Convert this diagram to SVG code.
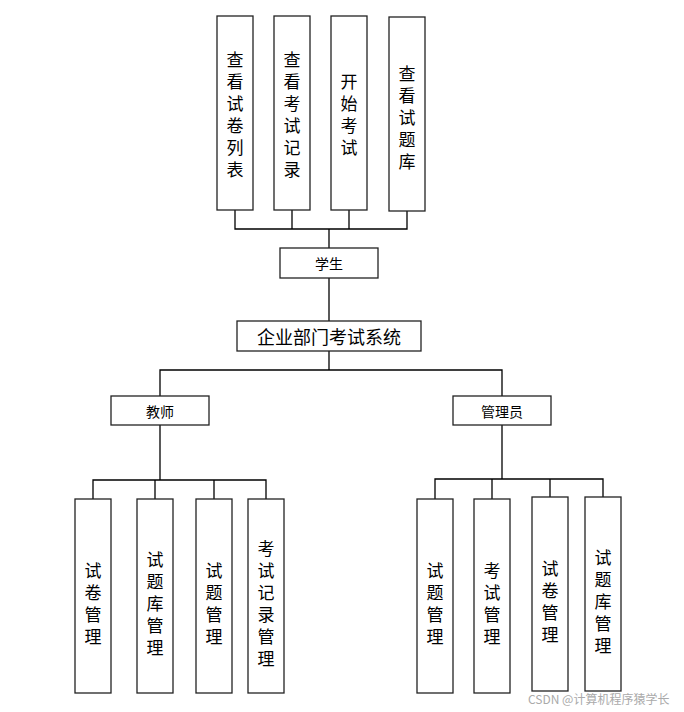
<svg xmlns="http://www.w3.org/2000/svg" width="684" height="712" viewBox="0 0 684 712">
<style>
rect{fill:#fff;stroke:#222;stroke-width:1.3}
.c line,.c polyline{stroke:#000;stroke-width:1.3;fill:none}
text{font-family:"Noto Sans CJK SC","Liberation Serif",serif;fill:#000}
.v{font-size:17px;text-anchor:middle;dominant-baseline:central}
.h{font-size:14px;text-anchor:middle;dominant-baseline:central}
</style>
<rect width="684" height="712" style="fill:#fff;stroke:none"/>
<g class="c">
<polyline points="235,210 235,229 407,229 407,211"/>
<line x1="292" y1="210" x2="292" y2="229"/>
<line x1="349" y1="210" x2="349" y2="229"/>
<line x1="329" y1="229" x2="329" y2="248"/>
<line x1="329" y1="278" x2="329" y2="321"/>
<line x1="329" y1="351" x2="329" y2="370"/>
<polyline points="160,396 160,370 502,370 502,396"/>
<line x1="160" y1="425" x2="160" y2="480"/>
<polyline points="93,499 93,480 266,480 266,499"/>
<line x1="155" y1="480" x2="155" y2="499"/>
<line x1="214" y1="480" x2="214" y2="499"/>
<line x1="502" y1="425" x2="502" y2="479"/>
<polyline points="435,499 435,479 603,479 603,497"/>
<line x1="492" y1="479" x2="492" y2="499"/>
<line x1="550" y1="479" x2="550" y2="497"/>
</g>
<g id="n1"><rect x="217" y="16" width="36" height="194"/><text class="v"><tspan x="235" y="58">查</tspan><tspan x="235" dy="22">看</tspan><tspan x="235" dy="22">试</tspan><tspan x="235" dy="22">卷</tspan><tspan x="235" dy="22">列</tspan><tspan x="235" dy="22">表</tspan></text></g>
<g id="n2"><rect x="274" y="16" width="36" height="194"/><text class="v"><tspan x="292" y="58">查</tspan><tspan x="292" dy="22">看</tspan><tspan x="292" dy="22">考</tspan><tspan x="292" dy="22">试</tspan><tspan x="292" dy="22">记</tspan><tspan x="292" dy="22">录</tspan></text></g>
<g id="n3"><rect x="331" y="16" width="36" height="194"/><text class="v"><tspan x="349" y="80">开</tspan><tspan x="349" dy="22">始</tspan><tspan x="349" dy="22">考</tspan><tspan x="349" dy="22">试</tspan></text></g>
<g id="n4"><rect x="389" y="17" width="36" height="194"/><text class="v"><tspan x="407" y="72">查</tspan><tspan x="407" dy="22">看</tspan><tspan x="407" dy="22">试</tspan><tspan x="407" dy="22">题</tspan><tspan x="407" dy="22">库</tspan></text></g>
<g id="student"><rect x="280" y="248" width="98" height="30"/><text class="h" x="329" y="263">学生</text></g>
<g id="system"><rect x="237" y="321" width="184" height="30"/><text x="329" y="336" style="font-size:18px;text-anchor:middle;dominant-baseline:central">企业部门考试系统</text></g>
<g id="teacher"><rect x="111" y="396" width="98" height="29"/><text class="h" x="160" y="410.5">教师</text></g>
<g id="admin"><rect x="453" y="396" width="98" height="29"/><text class="h" x="502" y="410.5">管理员</text></g>
<g id="t1"><rect x="75" y="499" width="36" height="194"/><text class="v"><tspan x="93" y="569">试</tspan><tspan x="93" dy="22">卷</tspan><tspan x="93" dy="22">管</tspan><tspan x="93" dy="22">理</tspan></text></g>
<g id="t2"><rect x="137" y="499" width="36" height="194"/><text class="v"><tspan x="155" y="558">试</tspan><tspan x="155" dy="22">题</tspan><tspan x="155" dy="22">库</tspan><tspan x="155" dy="22">管</tspan><tspan x="155" dy="22">理</tspan></text></g>
<g id="t3"><rect x="196" y="499" width="36" height="194"/><text class="v"><tspan x="214" y="569">试</tspan><tspan x="214" dy="22">题</tspan><tspan x="214" dy="22">管</tspan><tspan x="214" dy="22">理</tspan></text></g>
<g id="t4"><rect x="248" y="499" width="36" height="194"/><text class="v"><tspan x="266" y="547">考</tspan><tspan x="266" dy="22">试</tspan><tspan x="266" dy="22">记</tspan><tspan x="266" dy="22">录</tspan><tspan x="266" dy="22">管</tspan><tspan x="266" dy="22">理</tspan></text></g>
<g id="a1"><rect x="417" y="499" width="36" height="194"/><text class="v"><tspan x="435" y="569">试</tspan><tspan x="435" dy="22">题</tspan><tspan x="435" dy="22">管</tspan><tspan x="435" dy="22">理</tspan></text></g>
<g id="a2"><rect x="474" y="499" width="36" height="194"/><text class="v"><tspan x="492" y="569">考</tspan><tspan x="492" dy="22">试</tspan><tspan x="492" dy="22">管</tspan><tspan x="492" dy="22">理</tspan></text></g>
<g id="a3"><rect x="532" y="497" width="36" height="194"/><text class="v"><tspan x="550" y="567">试</tspan><tspan x="550" dy="22">卷</tspan><tspan x="550" dy="22">管</tspan><tspan x="550" dy="22">理</tspan></text></g>
<g id="a4"><rect x="585" y="497" width="36" height="194"/><text class="v"><tspan x="603" y="556">试</tspan><tspan x="603" dy="22">题</tspan><tspan x="603" dy="22">库</tspan><tspan x="603" dy="22">管</tspan><tspan x="603" dy="22">理</tspan></text></g>
<text x="528" y="698" style="font-size:12px;fill:#aaa;dominant-baseline:central">CSDN @计算机程序猿学长</text>
</svg>
